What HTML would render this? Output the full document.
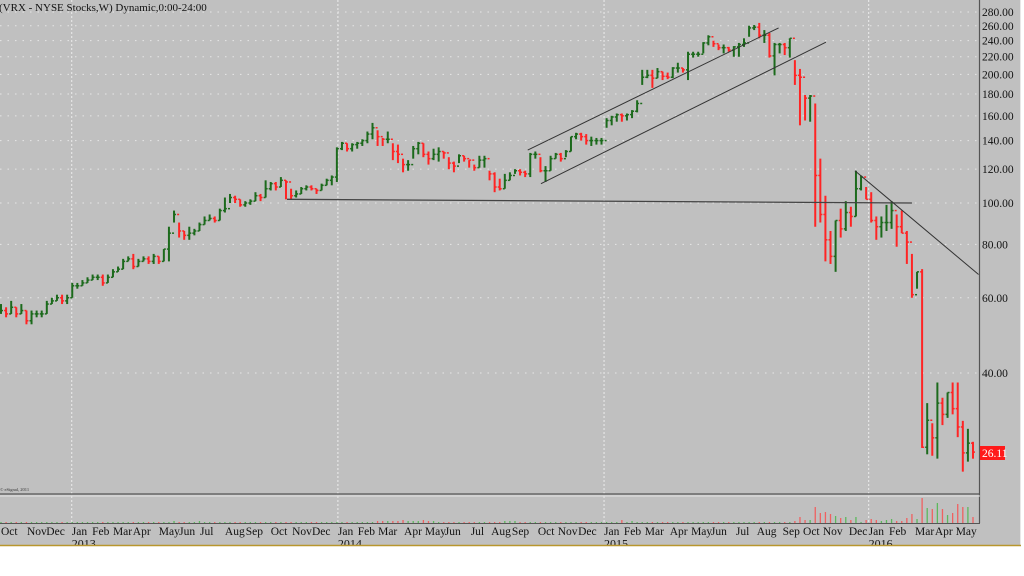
<!DOCTYPE html>
<html><head><meta charset="utf-8">
<style>
html,body{margin:0;padding:0;background:#fff;}
#wrap{position:relative;width:1024px;height:576px;overflow:hidden;background:#fff;}
svg text{font-family:"Liberation Serif",serif;}
</style></head>
<body>
<div id="wrap">
<svg id="chart" width="1024" height="576" xmlns="http://www.w3.org/2000/svg">
  <rect x="0" y="0" width="1021" height="546" fill="#c0c0c0"/>
  <line x1="1020.5" y1="0" x2="1020.5" y2="546" stroke="#e8e8e8" stroke-width="1"/>
  <g id="grid"></g>
  <g id="vgrid"></g>
  <g id="bars"></g>
  <g id="tlines"></g>
  <g id="vol"></g>
  <line x1="979.5" y1="0" x2="979.5" y2="523" stroke="#555" stroke-width="1.2"/>
  <line x1="0" y1="494" x2="980" y2="494" stroke="#555" stroke-width="1.2"/>
  <line x1="0" y1="496" x2="980" y2="496" stroke="#e4e4e4" stroke-width="1"/>
  <line x1="0" y1="523.5" x2="980" y2="523.5" stroke="#555" stroke-width="1"/>
  <g id="yaxis"></g>
  <g id="xaxis"></g>
  <rect x="0" y="546" width="1024" height="30" fill="#fff"/>
  <line x1="0" y1="545.5" x2="1021" y2="545.5" stroke="#b8962e" stroke-width="1.5"/>
  <text x="-1" y="11" font-size="11" fill="#111">(VRX - NYSE Stocks,W) Dynamic,0:00-24:00</text>
  <text x="0" y="491" font-size="4.5" fill="#333">© eSignal, 2011</text>
  <rect x="980" y="446" width="25" height="14" fill="#ff1a1a"/>
  <text x="982" y="457" font-size="11.5" fill="#fff">26.11</text>
</svg>
</div>
<script>
const highs = [
58,57,59,57,58,56,56,56,56,59, 60,61,61,61,65,65,66,67,68,68, 68,68,70,71,74,75,76,74,75,75, 76,75,78,88,96,90,86,88,87,90,
93,94,93,97,103,105,104,102,101,102, 106,105,113,112,112,115,113,108,107,109, 110,110,108,111,114,
116,135,139,138,138,139,141,147,154,148, 142,147,138,137,127,126,136,139,138,132, 134,135,132,128,125,130,129,126,123,129,
129,119,118,114,117,118,120,120,119,131, 132,128,122,129,131,131,133,143,146,146, 145,143,142,142,
158,160,162,162,162,165,174,205,205,205, 207,203,202,208,213,207,226,226,226,238, 247,240,235,235,232,233,237,243,260,261,
264,254,250,237,237,237,243,
216,206,179,179,171,127,104,86,91,97, 101,98,119,116,109,106,93,93,99,101, 94,96,86,76,69,70,34,30.5,38,35,
36,38,38,30.9,29.6,27.6];
const lows = [
55,54,55,54,55,52,52,54,54,55, 58,59,58,58,60,63,64,65,66,66, 64,65,67,69,70,73,70,71,73,72, 72,72,73,73,90,83,82,82,84,86,
89,91,90,91,95,100,100,98,98,99, 101,101,103,107,107,109,102,102,103,105, 107,107,105,107,110,
110,112,133,132,132,134,136,138,141,136, 136,138,126,124,118,119,127,130,128,123, 126,125,127,120,118,124,125,121,119,121,
121,113,106,107,108,113,117,116,115,115, 127,118,112,119,127,125,128,132,141,140, 137,136,137,137,
150,152,155,155,156,158,163,189,196,186, 196,194,195,196,202,202,194,219,220,224, 234,232,228,224,226,220,220,232,245,254,
243,237,219,199,224,222,219,
189,152,156,155,88,90,73,72,69,83, 86,88,93,107,102,90,82,83,86,87, 79,85,72,60,63,26.7,25.8,25.6,25.2,30.2,
31.4,32,28.3,23.5,24.8,25.2];
const closes = [
56,55,57,55,56,53,55,55,55,58, 59,60,59,60,64,64,65,66,67,67, 65,67,69,70,73,74,71,73,74,73, 75,73,78,85,94,86,84,85,86,89,
91,92,91,96,97,103,102,99,100,101, 104,103,108,111,109,113,112,104,105,108, 109,108,107,110,113,
115,134,138,134,137,138,140,145,150,143, 141,141,132,130,123,123,134,138,130,127, 130,132,131,124,122,129,127,126,121,126,
127,117,109,108,113,116,119,118,117,130, 130,119,119,127,130,127,132,143,145,143, 140,140,140,140,
156,159,161,160,161,164,171,197,199,196, 203,198,197,207,207,205,223,223,223,237, 245,236,231,231,228,232,235,237,257,258,
247,247,221,235,235,231,243,
199,197,176,178,116,94,82,75,91,87, 95,93,108,115,102,91,88,90,90,96, 88,85,81,61,69,26.8,31,28.2,34,32,
36,33,29.9,26,27.4,26.11];
const volumes = [
1,1,1,1,1,1,1,1,1,1, 1,1,1,1,1,1,1,1,1,1, 1,1,1,1,1,1,1,1,1,1, 1,1,1,1,2,1,1,1,1,2, 1,1,1,1,1,1,1,1,1,1, 1,1,1,1,1,1,1,1,1,1,
1,1,1,1,1,1,1,1,1,1, 1,1,1,1,2,2,2,2,2,3, 2,2,2,3,2,2,1,1,1,1, 1,1,1,1,1,1,1,1,1,2, 2,2,1,1,1,1,1,1,1,1,
1,1,1,1,1,1,1,1,1,1, 1,1,3,1,2,1,1,1,1,1, 1,1,1,1,1,1,1,1,1,1, 1,1,1,1,1,1,1,1,1,1, 1,1,1,1,1,1,
2,6,3,3,16,10,11,9,7,5, 6,3,6,1,3,4,3,2,3,4, 2,2,5,9,4,25,15,14,20,14, 8,10,19,16,16,6];
const yTicks = [280,260,240,220,200,180,160,140,120,100,80,60,40];
const monthLabels = ["Oct","Nov","Dec","Jan","Feb","Mar","Apr","May","Jun","Jul","Aug","Sep","Oct","Nov","Dec","Jan","Feb","Mar","Apr","May","Jun","Jul","Aug","Sep","Oct","Nov","Dec","Jan","Feb","Mar","Apr","May","Jun","Jul","Aug","Sep","Oct","Nov","Dec","Jan","Feb","Mar","Apr","May"];
const monthIdx = [0,5.1,8.9,13.9,17.9,22,25.9,31,35,39.1,44,48.1,53,57.2,61.1,66.2,70.1,74.1,79.2,83.3,87.2,92.3,96.3,100.4,105.5,109.4,113.4,118.5,122.4,126.5,131.4,135.6,139.5,144.4,148.5,153.6,157.6,161.5,166.6,170.5,174.5,179.6,183.5,187.6];
const yearLabels = ["2013","2014","2015","2016"];
const yearIdx = [13.9,66.2,118.5,170.5];
const trendIdx = [[56.2,179],[103.5,152.8],[106.1,162.1],[167.8,192.1]];
const trendPrice = [[102,100],[133,257],[111,238],[119,68]];

const NS="http://www.w3.org/2000/svg";
const N = closes.length;
const STEP = 972/(N-1);
function xs(i){return 1 + i*STEP;}
function ys(p){return 203 - 185.5*Math.log(p/100);}
function volY(v){return 523 - v*27/27;}
function mk(tag,attrs,parent){const e=document.createElementNS(NS,tag);for(const k in attrs)e.setAttribute(k,attrs[k]);parent.appendChild(e);return e;}

const grid=document.getElementById('grid');
const yaxis=document.getElementById('yaxis');
yTicks.forEach(t=>{
  const y=ys(t);
  const gl=mk('line',{x1:0,x2:979,y1:y,y2:y,stroke:'#e6e6e6','stroke-width':1,'stroke-dasharray':'1.5,6'},grid);
  
  
  const tx=mk('text',{x:982,y:y+4,'font-size':11.5,fill:'#111'},yaxis);
  tx.textContent=t.toFixed(2);
  
  
});
const vgrid=document.getElementById('vgrid');
yearIdx.forEach(i=>{
  const x=xs(i);
  const l=mk('line',{x1:x,x2:x,y1:0,y2:523,stroke:'#ececec','stroke-width':1,'stroke-dasharray':'2,2'},vgrid);
  
  
});

const bars=document.getElementById('bars');
for(let i=0;i<N;i++){
  const o = i===0?closes[0]:closes[i-1];
  const c = closes[i];
  const col = c>=o ? '#1c6a1c' : '#ff2424';
  const x=xs(i);
  const g=mk('g',{},bars);
  
  
  mk('line',{x1:x,x2:x,y1:ys(highs[i]),y2:ys(lows[i]),stroke:col,'stroke-width':2},g);
  mk('line',{x1:x-2,x2:x,y1:ys(o),y2:ys(o),stroke:col,'stroke-width':1.5},g);
  mk('line',{x1:x,x2:x+2,y1:ys(c),y2:ys(c),stroke:col,'stroke-width':1.5},g);
}

const vol=document.getElementById('vol');
for(let i=0;i<N;i++){
  const o = i===0?closes[0]:closes[i-1];
  const col = closes[i]>=o ? '#5cb85c' : '#f06060';
  const x=xs(i);
  const vb=mk('line',{x1:x,x2:x,y1:volY(volumes[i]),y2:523,stroke:col,'stroke-width':1.3},vol);
  
  
}

const tl=document.getElementById('tlines');
trendIdx.forEach((pair,k)=>{
  const l=mk('line',{x1:xs(pair[0]),x2:xs(pair[1]),y1:ys(trendPrice[k][0]),y2:ys(trendPrice[k][1]),stroke:k===0?'#444':'#333','stroke-width':k===0?1.3:1},tl);
  
  
});

const xaxis=document.getElementById('xaxis');
monthLabels.forEach((m,k)=>{
  const t=mk('text',{x:xs(monthIdx[k]),y:535,'font-size':11.5,fill:'#111'},xaxis);
  t.textContent=m;
  
  
});
yearLabels.forEach((yl,k)=>{
  const t=mk('text',{x:xs(yearIdx[k]),y:547.5,'font-size':12,fill:'#111'},xaxis);
  t.textContent=yl;
  
  
});
</script>
</body></html>
